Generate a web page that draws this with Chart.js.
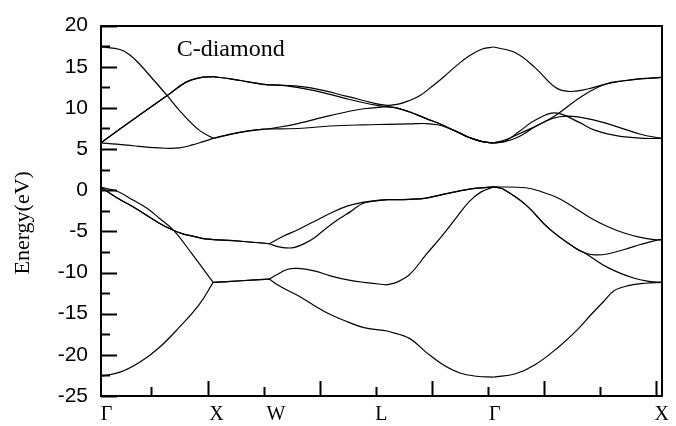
<!DOCTYPE html>
<html lang="en">
<head>
<meta charset="UTF-8">
<title>C-diamond band structure</title>
<script src="https://cdn.jsdelivr.net/npm/chart.js@4.4.1/dist/chart.umd.min.js"></script>
<style>
    html, body { margin: 0; padding: 0; background: #ffffff; }
    #chartWrap { width: 676px; height: 426px; }
</style>
</head>
<body>
<div id="chartWrap"><canvas id="bandChart" width="676" height="426"></canvas></div>
<script>
/* ========================================
   BAND STRUCTURE - DATA
======================================== */

// k-path: high-symmetry points (segment breaks) and their labels
const kPoints = [0, 20, 30, 51, 70, 100];
const kLabels = ['Γ', 'X', 'W', 'L', 'Γ', 'X'];
const kLabelPos = [1, 20.6, 31.2, 50, 70.2, 100];

// regular tick marks on the k axis
const kMinorTicks = [9, 29, 49, 69, 89];
const kMajorTicks = [19, 39, 59, 79, 99];

// energy axis (eV)
const eTicks = [20, 15, 10, 5, 0, -5, -10, -15, -20, -25];

const chartTitle = 'C-diamond';
const titleAt = [13.5, 16.25];
const yTitle = 'Energy(eV)';

// valence bands [k, E]
const valence1 = [
    [0, -22.6], [3.4, -22.1], [6.9, -20.9], [10.4, -19.1], [13.9, -16.7], [17.5, -13.9], [20, -11.2],
    [25, -11.0], [30, -10.8],
    [32, -11.7], [35.1, -12.8], [38, -14.0], [40.9, -15.1], [44, -16.0], [46.9, -16.7], [51, -17.1],
    [55, -18.0], [58, -19.7], [61, -21.2], [64, -22.2], [67, -22.6], [70, -22.7],
    [73.9, -22.3], [77.4, -21.2], [81.5, -19.1], [85, -16.9], [87.4, -15.1], [89.8, -13.4], [91.5, -12.2], [94, -11.6], [97, -11.3], [100, -11.2]
];
const valence2 = [
    [0, 0.35], [2.8, -0.1], [5.7, -1.2], [8.2, -2.2], [10.4, -3.4], [13, -4.9], [16.3, -7.8], [20, -11.2],
    [25, -11.0], [30, -10.8],
    [31.5, -10.2], [33.3, -9.6], [35.1, -9.5], [38, -9.8], [40.9, -10.4], [44, -10.9], [46.9, -11.2], [51, -11.5],
    [53, -11.1], [55.1, -10.2], [58, -7.8], [61, -5.4], [63.5, -3.2], [65.7, -1.35], [67.8, -0.2], [70, 0.4],
    [71.5, 0.2], [75.7, -1.75], [79.8, -4.6], [84.5, -7.0], [86.2, -7.6], [90.4, -9.4], [95.1, -10.7], [98, -11.1], [100, -11.2]
];
const valence3 = [
    [0, 0.35], [2.9, -0.95], [5.7, -2.0], [10.4, -4.0], [13, -4.9], [14.6, -5.3], [16.2, -5.55], [18, -5.85], [20, -6.0],
    [25, -6.2], [30, -6.5],
    [32.5, -5.6], [35.1, -4.8], [38, -3.8], [40.9, -2.8], [44, -1.9], [46.9, -1.45], [49, -1.25], [51, -1.15],
    [55, -1.1], [58, -0.95], [61, -0.5], [63.8, -0.1], [67, 0.25], [70, 0.4],
    [75.7, 0.3], [78.6, -0.2], [81.5, -0.95], [84.5, -2.15], [87.4, -3.4], [90.3, -4.4], [93.3, -5.2], [96, -5.7], [98.6, -6.0], [100, -6.0]
];
const valence4 = [
    [0, 0.35], [2.9, -0.95], [5.7, -2.0], [10.4, -4.0], [13, -4.9], [14.6, -5.3], [16.2, -5.55], [18, -5.85], [20, -6.0],
    [25, -6.2], [30, -6.5],
    [31.5, -6.85], [32.8, -7.0], [34.5, -6.95], [36.5, -6.4], [38, -5.8], [40, -4.7], [42.2, -3.6], [44.5, -2.6], [46.9, -1.55], [51, -1.15],
    [55, -1.1], [58, -0.95], [61, -0.5], [63.8, -0.1], [67, 0.25], [70, 0.4],
    [71.5, 0.2], [75.7, -1.75], [79.8, -4.6], [84.5, -7.0], [86.2, -7.6], [88, -7.85], [90.3, -7.75], [93.3, -7.2], [96.2, -6.6], [98.6, -6.15], [100, -6.0]
];

// conduction bands [k, E]
const conduction1 = [
    [0, 5.75], [2.8, 5.6], [5.7, 5.4], [8.6, 5.2], [11.6, 5.1], [14, 5.15], [16.3, 5.5], [18.2, 5.9], [20, 6.3],
    [24.5, 7.0], [28.6, 7.4], [30, 7.45],
    [35.1, 7.5], [40.9, 7.8], [46.9, 7.95], [51, 8.0],
    [55, 8.05], [58, 8.1], [60, 7.95], [62, 7.55], [63.8, 7.0], [65.7, 6.4], [68, 5.9], [70, 5.75],
    [72, 5.95], [74.5, 7.1], [77.4, 8.5], [81, 9.4], [85.1, 8.3], [88, 7.3], [92.1, 6.6], [96.8, 6.3], [100, 6.3]
];
const conduction2 = [
    [0, 17.4], [3.4, 17.1], [5.2, 16.4], [6.9, 15.3], [9.5, 13.3], [11.8, 11.5], [14.5, 9.3], [17.5, 7.3], [20, 6.3],
    [24.5, 7.0], [28.6, 7.4], [30, 7.45],
    [35.1, 8.1], [41, 9.1], [46.9, 9.9], [51, 10.15],
    [53, 9.95], [55.1, 9.5], [58, 8.7], [61, 7.9], [62, 7.55], [63.8, 7.0], [65.7, 6.4], [68, 5.9], [70, 5.75],
    [72, 5.9], [74.5, 6.5], [77.4, 7.7], [80.4, 8.7], [83.3, 9.0], [87.4, 8.6], [92.1, 7.7], [96.2, 6.8], [100, 6.3]
];
const conduction3 = [
    [0, 5.75], [3.5, 7.5], [7, 9.2], [11.8, 11.5], [15.1, 13.1], [17.5, 13.65], [20, 13.8],
    [23.3, 13.5], [26, 13.2], [28.6, 12.9], [30, 12.8],
    [32.8, 12.7], [38.1, 12.1], [43.9, 11.1], [49.2, 10.3], [51, 10.15],
    [53, 9.95], [55.1, 9.5], [58, 8.7], [61, 7.9], [62, 7.55], [63.8, 7.0], [65.7, 6.4], [68, 5.9], [70, 5.75],
    [72, 6.1], [74.4, 6.8], [80.4, 8.8], [85.7, 11.4], [90, 12.9], [93.3, 13.3], [96.5, 13.55], [100, 13.7]
];
const conduction4 = [
    [0, 5.75], [3.5, 7.5], [7, 9.2], [11.8, 11.5], [15.1, 13.1], [17.5, 13.65], [20, 13.8],
    [23.3, 13.5], [26, 13.2], [28.6, 12.9], [30, 12.8],
    [32.8, 12.75], [38.1, 12.35], [43.9, 11.4], [49.2, 10.5], [51, 10.3],
    [53, 10.45], [55, 10.9], [56.9, 11.5], [59, 12.6], [61, 13.7], [63.5, 15.2], [65.7, 16.35], [68, 17.15], [70, 17.4],
    [73.9, 16.7], [77.4, 14.9], [81, 12.5], [83.3, 12.0], [86.8, 12.3], [90, 12.9], [93.3, 13.3], [96.5, 13.55], [100, 13.7]
];

const bands = [valence1, valence2, valence3, valence4, conduction1, conduction2, conduction3, conduction4];

/* ========================================
   DATASETS
======================================== */

// one dataset per band and per path segment, so the kinks at the
// high-symmetry points stay sharp
function buildDatasets() {
    const sets = [];
    bands.forEach(band => {
        for (let i = 0; i < kPoints.length - 1; i++) {
            const from = kPoints[i];
            const to = kPoints[i + 1];
            const seg = band
                .filter(p => p[0] >= from && p[0] <= to)
                .map(p => ({ x: p[0], y: p[1] }));
            sets.push({
                data: seg,
                borderColor: '#000000',
                borderWidth: 1.2,
                pointRadius: 0,
                fill: false,
                tension: 0.4
            });
        }
    });
    return sets;
}

/* ========================================
   PLUGINS
======================================== */

// tick marks pointing into the plot, the y title and the "C-diamond" caption
const innerTicks = {
    id: 'innerTicks',
    afterDraw(chart) {
        const { ctx, chartArea, scales: { x, y } } = chart;
        ctx.save();
        ctx.strokeStyle = '#000000';
        ctx.lineWidth = 2;

        const vTick = (v, len) => {
            const px = Math.round(x.getPixelForValue(v)) + 0.5;
            ctx.beginPath();
            ctx.moveTo(px, chartArea.bottom);
            ctx.lineTo(px, chartArea.bottom - len);
            ctx.stroke();
        };
        kMinorTicks.forEach(v => vTick(v, 9));
        kMajorTicks.forEach(v => vTick(v, 15));

        const hTick = (v, len) => {
            const py = Math.round(y.getPixelForValue(v)) + 0.5;
            ctx.beginPath();
            ctx.moveTo(chartArea.left, py);
            ctx.lineTo(chartArea.left + len, py);
            ctx.stroke();
        };
        eTicks.forEach(v => {
            hTick(v, 16);
            if (v < 20) hTick(v + 2.5, 9);
        });

        ctx.fillStyle = '#000000';
        ctx.font = '24px "Liberation Serif"';
        ctx.textAlign = 'left';
        ctx.textBaseline = 'alphabetic';
        ctx.fillText(chartTitle, x.getPixelForValue(titleAt[0]), y.getPixelForValue(titleAt[1]));

        // y title, a little below the middle of the axis as in the original
        ctx.font = '22px "Liberation Serif"';
        ctx.textAlign = 'center';
        ctx.textBaseline = 'middle';
        ctx.translate(23, (chartArea.top + chartArea.bottom) / 2 + 12);
        ctx.rotate(-Math.PI / 2);
        ctx.fillText(yTitle, 0, 0);
        ctx.restore();
    }
};

/* ========================================
   CHART
======================================== */

function initializeBandChart() {
    const ctx = document.getElementById('bandChart');

    const frameAxis = (position) => ({
        type: 'linear',
        position: position,
        min: 0,
        max: 1,
        ticks: { display: false },
        grid: { display: false, drawTicks: false },
        border: { display: true, color: '#000000', width: 2 },
        afterFit(scale) {
            if (position === 'top') scale.height = 0;
            else scale.width = 0;
        }
    });

    new Chart(ctx, {
        type: 'line',
        data: { datasets: buildDatasets() },
        options: {
            responsive: false,
            animation: false,
            devicePixelRatio: 1,
            layout: { padding: { top: 23, right: 7, bottom: 0, left: 0 } },
            plugins: {
                legend: { display: false },
                tooltip: { enabled: false }
            },
            scales: {
                x: {
                    type: 'linear',
                    position: 'bottom',
                    min: 0,
                    max: 100,
                    afterBuildTicks(scale) {
                        scale.ticks = kLabelPos.map(v => ({ value: v }));
                    },
                    ticks: {
                        autoSkip: false,
                        maxRotation: 0,
                        padding: 7,
                        color: '#000000',
                        font: { family: '"Liberation Serif"', size: 20 },
                        callback: (value, index) => kLabels[index]
                    },
                    grid: { display: false, drawTicks: false },
                    border: { display: true, color: '#000000', width: 2 },
                    afterFit(scale) { scale.height = 30; }
                },
                y: {
                    type: 'linear',
                    position: 'left',
                    min: -25,
                    max: 20,
                    afterBuildTicks(scale) {
                        scale.ticks = eTicks.map(v => ({ value: v }));
                    },
                    ticks: {
                        padding: 13,
                        color: '#000000',
                        font: { family: '"Liberation Sans"', size: 21 },
                        callback: value => String(value)
                    },
                    grid: { display: false, drawTicks: false },
                    border: { display: true, color: '#000000', width: 2 },
                    afterFit(scale) { scale.width = 101; }
                },
                xTop: frameAxis('top'),
                yRight: frameAxis('right')
            }
        },
        plugins: [innerTicks]
    });
}

document.addEventListener('DOMContentLoaded', initializeBandChart);
</script>
</body>
</html>
